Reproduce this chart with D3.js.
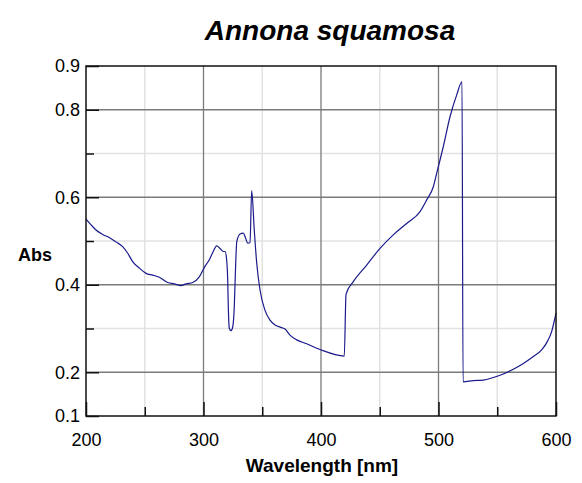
<!DOCTYPE html>
<html>
<head>
<meta charset="utf-8">
<script src="https://cdnjs.cloudflare.com/ajax/libs/d3/7.8.5/d3.min.js"></script>
<style>
	body { margin: 0; background: #fff; }
	text { font-family: "Liberation Sans", Arial, sans-serif; fill: #000; }
</style>
</head>
<body>
<div id="chart-area"></div>
<script>
/*
*    Annona squamosa - UV/Vis spectrum
*/

// data
var wavelength = [200, 204.3, 208.5, 214.2, 219.8, 225.5, 231.2, 235.5, 239.7, 245.4,
	251.1, 256.8, 262.4, 269.5, 275.1, 280.9, 285.1, 290.8, 296.4, 301.5,
	304.1, 308.3, 311.2, 314.0, 316.9, 318.3, 319.7, 320.6, 321.1, 322.0,
	323.4, 324.9, 326.2, 327.4, 328.3, 331.1, 333.9, 335.9, 337.6, 339.6,
	341.0, 343.2, 345.3, 348.1, 352.3, 356.6, 360.9, 366.5, 369.4, 373.6,
	379.3, 387.8, 399.1, 419.8, 421.3, 427.5, 438.9, 450.2, 461.5, 472.9,
	484.3, 490.0, 495.6, 498.5, 504.1, 509.8, 515.5, 520.0, 520.9, 529.6,
	538.1, 546.6, 555.1, 563.7, 572.2, 580.7, 587.8, 592.6, 596.3, 600];
var absorbance = [0.550, 0.537, 0.525, 0.515, 0.508, 0.498, 0.487, 0.472, 0.453, 0.438,
	0.426, 0.422, 0.417, 0.405, 0.402, 0.398, 0.402, 0.405, 0.418, 0.443,
	0.453, 0.476, 0.489, 0.483, 0.476, 0.476, 0.457, 0.411, 0.350, 0.300,
	0.295, 0.304, 0.350, 0.449, 0.498, 0.516, 0.518, 0.506, 0.495, 0.496,
	0.615, 0.525, 0.449, 0.388, 0.342, 0.319, 0.308, 0.302, 0.299, 0.285,
	0.274, 0.265, 0.252, 0.237, 0.378, 0.407, 0.445, 0.483, 0.514, 0.540,
	0.567, 0.594, 0.624, 0.655, 0.716, 0.784, 0.834, 0.864, 0.178, 0.181,
	0.182, 0.188, 0.196, 0.207, 0.220, 0.236, 0.251, 0.270, 0.293, 0.335];

// tick values
var xMajor = [200, 300, 400, 500, 600];
var xMinor = [250, 350, 450, 550];
var yLabels = [0.1, 0.2, 0.4, 0.6, 0.8, 0.9];
var yMajorGrid = [0.2, 0.4, 0.6, 0.8];
var yMinor = [0.3, 0.5, 0.7];

var margin = {left: 86, right: 26, top: 66, bottom: 67};
var width = 582 - margin.left - margin.right,
	height = 483 - margin.top - margin.bottom;

var svg = d3.select("#chart-area")
	.append("svg")
		.attr("width", 582)
		.attr("height", 483);

var g = svg.append("g")
	.attr("transform", "translate(" + margin.left + "," + margin.top + ")");

//Scales
var xScale = d3.scaleLinear()
	.domain([200, 600])
	.range([0, width]);

var yScale = d3.scaleLinear()
	.domain([0.1, 0.9])
	.range([height, 0]);

//minor grid
g.selectAll(".xminor").data(xMinor).enter().append("line")
	.attr("x1", function(d){ return xScale(d); })
	.attr("x2", function(d){ return xScale(d); })
	.attr("y1", 0).attr("y2", height)
	.attr("stroke", "#e2e2e2").attr("stroke-width", 1.5);

g.selectAll(".yminor").data(yMinor).enter().append("line")
	.attr("y1", function(d){ return yScale(d); })
	.attr("y2", function(d){ return yScale(d); })
	.attr("x1", 0).attr("x2", width)
	.attr("stroke", "#e2e2e2").attr("stroke-width", 1.5);

//major grid
g.selectAll(".xmajor").data(xMajor.slice(1, -1)).enter().append("line")
	.attr("x1", function(d){ return xScale(d); })
	.attr("x2", function(d){ return xScale(d); })
	.attr("y1", 0).attr("y2", height)
	.attr("stroke", "#7a7a7a").attr("stroke-width", 1.3);

g.selectAll(".ymajor").data(yMajorGrid).enter().append("line")
	.attr("y1", function(d){ return yScale(d); })
	.attr("y2", function(d){ return yScale(d); })
	.attr("x1", 0).attr("x2", width)
	.attr("stroke", "#7a7a7a").attr("stroke-width", 1.3);

//spectrum line
var line = d3.line()
	.x(function(d, i){ return xScale(wavelength[i]); })
	.y(function(d){ return yScale(d); })
	.curve(d3.curveMonotoneX);

g.append("path")
	.datum(absorbance)
	.attr("fill", "none")
	.attr("stroke", "#1a1a8c")
	.attr("stroke-width", 1.2)
	.attr("stroke-linejoin", "round")
	.attr("d", line);

//frame
g.append("rect")
	.attr("width", width).attr("height", height)
	.attr("fill", "none")
	.attr("stroke", "#111").attr("stroke-width", 1.5);

//x axis (ticks inside, labels below)
var xAxisCall = d3.axisBottom(xScale)
	.tickValues(xMajor)
	.tickSizeInner(-14)
	.tickSizeOuter(0)
	.tickPadding(17)
	.tickFormat(d3.format("d"));
var xAxis = g.append("g")
	.attr("transform", "translate(0," + height + ")")
	.call(xAxisCall);

var xMinorAxis = g.append("g")
	.attr("transform", "translate(0," + height + ")")
	.call(d3.axisBottom(xScale).tickValues(xMinor).tickSizeInner(-9).tickSizeOuter(0).tickFormat(""));

//y axis
var yAxisCall = d3.axisLeft(yScale)
	.tickValues(yLabels)
	.tickSizeInner(-13)
	.tickSizeOuter(0)
	.tickPadding(6)
	.tickFormat(d3.format(".1f"));
var yAxis = g.append("g").call(yAxisCall);

var yMinorAxis = g.append("g")
	.call(d3.axisLeft(yScale).tickValues(yMinor).tickSizeInner(-8).tickSizeOuter(0).tickFormat(""));

[xAxis, xMinorAxis, yAxis, yMinorAxis].forEach(function(a){
	a.select(".domain").remove();
	a.selectAll(".tick line").attr("stroke", "#111").attr("stroke-width", 1.5);
	a.selectAll(".tick text")
		.attr("font-family", "Liberation Sans, Arial, sans-serif")
		.attr("font-size", "18px")
		.attr("fill", "#000");
});

//Labels
svg.append("text")
	.attr("x", 330)
	.attr("y", 40)
	.attr("text-anchor", "middle")
	.attr("font-size", "28px")
	.attr("font-weight", "bold")
	.attr("font-style", "italic")
	.text("Annona squamosa");

svg.append("text")
	.attr("x", 322)
	.attr("y", 472)
	.attr("text-anchor", "middle")
	.attr("font-size", "19px")
	.attr("font-weight", "bold")
	.text("Wavelength [nm]");

svg.append("text")
	.attr("x", 35)
	.attr("y", 261)
	.attr("text-anchor", "middle")
	.attr("font-size", "18px")
	.attr("font-weight", "bold")
	.text("Abs");
</script>
</body>
</html>
